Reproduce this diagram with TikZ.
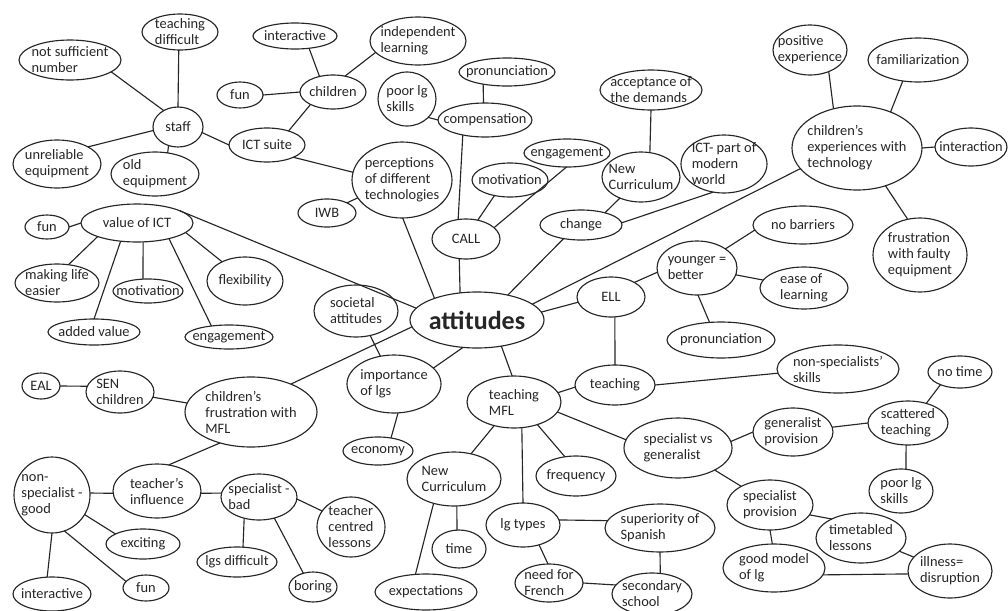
\documentclass[tikz,border=0pt]{standalone}
\usepackage{fontspec}
\setmainfont{Carlito}
\usetikzlibrary{shapes.geometric}
\tikzset{
  bub/.style={draw=black!85, line width=0.85pt, ellipse, inner sep=0pt, outer sep=0pt},
  lbl/.style={align=left, inner sep=0pt, text=black!85, font=\fontsize{10.8}{12}\selectfont},
  link/.style={draw=black!85, line width=0.85pt},
}
% \bub{name}{x}{y}{half width}{half height}{text}
\newcommand\bub[6]{\node[bub, minimum width=#4*1.5pt, minimum height=#5*1.5pt, label={[lbl]center:{#6}}] (#1) at (#2,#3) {};}
\begin{document}
\begin{tikzpicture}[x=0.75pt, y=-0.75pt]
\fill[white] (0,0) rectangle (1008,611);
\useasboundingbox (0,0) rectangle (1008,611);

% centre
\node[bub, minimum width=134*0.75pt, minimum height=56*0.75pt,
  label={[lbl, font=\fontsize{19.5}{22}\selectfont\bfseries]center:attitudes}] (att) at (477,320) {};

% staff / ICT suite cluster
\bub{td}{180}{32}{38}{18}{teaching\\difficult}
\bub{nsn}{70}{60}{51}{20}{not sufficient\\number}
\bub{staff}{178}{127}{25}{20}{staff}
\bub{ue}{57}{164}{44}{24}{unreliable\\equipment}
\bub{oe}{155}{174}{44}{22}{old\\equipment}
\bub{ict}{267}{145}{38}{17}{ICT suite}
\bub{fun1}{240}{95}{23}{13}{fun}
\bub{inter1}{295}{36}{42}{13}{interactive}
\bub{chil}{333}{92}{33}{17}{children}
\bub{indep}{418}{41}{48}{24}{independent\\learning}
\bub{perc}{402}{180}{50}{38}{perceptions\\of different\\technologies}
\bub{iwb}{327}{213}{29}{14}{IWB}

% CALL cluster
\bub{pron1}{507}{72}{48}{14}{pronunciation}
\bub{plg1}{407}{99}{29}{27}{poor lg\\skills}
\bub{comp}{485}{120}{47}{17}{compensation}
\bub{eng1}{567}{153}{43}{14}{engagement}
\bub{mot1}{510}{180}{38}{17}{motivation}
\bub{call}{466}{239}{34}{20}{CALL}

% change cluster
\bub{acc}{651}{90}{51}{20}{acceptance of\\the demands}
\bub{nc1}{641}{177}{39}{25}{New\\Curriculum}
\bub{chg}{581}{225}{41}{15}{change}
\bub{ictw}{724}{164}{43}{29}{ICT- part of\\modern\\world}

% children's experiences cluster
\bub{pos}{810}{50}{37}{25}{positive\\experience}
\bub{fam}{918}{60}{50}{22}{familiarization}
\bub{cexp}{857}{148}{65}{42}{children's\\experiences with\\technology}
\bub{inter2}{971}{147}{36}{19}{interaction}
\bub{frus}{920}{255}{47}{37}{frustration\\with faulty\\equipment}

% ELL cluster
\bub{nob}{803}{225}{50}{19}{no barriers}
\bub{yb}{697}{268}{40}{27}{younger =\\better}
\bub{ease}{804}{288}{44}{21}{ease of\\learning}
\bub{ell}{611}{297}{34}{20}{ELL}
\bub{pron2}{721}{340}{54}{18}{pronunciation}

% teaching MFL cluster
\bub{tmfl}{514}{402}{47}{26}{teaching\\MFL}
\bub{teach}{615}{385}{40}{20}{teaching}
\bub{nss}{838}{369}{61}{24}{non-specialists'\\skills}
\bub{notime}{960}{372}{32}{16}{no time}
\bub{scat}{908}{423}{40}{22}{scattered\\teaching}
\bub{genp}{793}{432}{40}{24}{generalist\\provision}
\bub{svg}{678}{448}{54}{30}{specialist vs\\generalist}
\bub{specp}{770}{505}{43}{25}{specialist\\provision}
\bub{plg2}{901}{491}{32}{22}{poor lg\\skills}
\bub{tt}{861}{538}{45}{25}{timetabled\\lessons}
\bub{gm}{774}{568}{51}{24}{good model\\of lg}
\bub{ill}{950}{571}{42}{27}{illness=\\disruption}
\bub{freq}{576}{476}{40}{20}{frequency}
\bub{lgt}{523}{525}{37}{22}{lg types}
\bub{sup}{660}{528}{55}{24}{superiority of\\Spanish}
\bub{nff}{549}{583}{34}{19}{need for\\French}
\bub{sec}{652}{594}{40}{21}{secondary\\school}
\bub{nc2}{454}{479}{47}{27}{New\\Curriculum}
\bub{time}{459}{549}{27}{19}{time}
\bub{exp}{426}{592}{51}{18}{expectations}

% importance of languages
\bub{soc}{356}{311}{42}{26}{societal\\attitudes}
\bub{imp}{394}{384}{47}{29}{importance\\of lgs}
\bub{econ}{378}{451}{35}{14}{economy}

% frustration with MFL cluster
\bub{cfm}{251}{412}{66}{35}{children's\\frustration with\\MFL}
\bub{sen}{120}{392}{34}{21}{SEN\\children}
\bub{eal}{41}{386}{19}{13}{EAL}
\bub{ti}{157}{491}{44}{27}{teacher's\\influence}
\bub{nsg}{52}{495}{38}{38}{non-\\specialist -\\good}
\bub{sb}{259}{497}{38}{23}{specialist -\\bad}
\bub{tcl}{351}{527}{34}{30}{teacher\\centred\\lessons}
\bub{exc}{143}{544}{37}{15}{exciting}
\bub{lgd}{237}{562}{40}{15}{lgs difficult}
\bub{fun3}{146}{588}{23}{13}{fun}
\bub{bor}{313}{587}{24}{15}{boring}
\bub{inter3}{52}{594}{39}{17}{interactive}

% value of ICT cluster
\bub{vict}{137}{223}{56}{19}{value of ICT}
\bub{funi}{47}{227}{22}{12}{fun}
\bub{mle}{57}{283}{42}{19}{making life\\easier}
\bub{mot2}{148}{291}{35}{12}{motivation}
\bub{flex}{245}{281}{38}{24}{flexibility}
\bub{av}{94}{332}{46}{13}{added value}
\bub{eng2}{229}{337}{44}{12}{engagement}

% connectors
\draw[link] (staff.90) -- (td.266);
\draw[link] (staff.131) -- (nsn.344);
\draw[link] (staff.188) -- (ue.29);
\draw[link] (staff.243) -- (oe.59);
\draw[link] (staff.347) -- (ict.180);
\draw[link] (ict.33) -- (chil.209);
\draw[link] (chil.180) -- (fun1.0);
\draw[link] (chil.131) -- (inter1.319);
\draw[link] (chil.53) -- (indep.195);
\draw[link] (ict.335) -- (perc.171);
\draw[link] (perc.202) -- (iwb.27);
\draw[link] (perc.271) -- (att.153);
\draw[link] (call.251) -- (att.122);
\draw[link] (call.112) -- (comp.214);
\draw[link] (comp.95) -- (pron1.207);
\draw[link] (comp.180) -- (plg1.319);
\draw[link] (call.58) -- (mot1.225);
\draw[link] (call.22) -- (eng1.268);
\draw[link] (att.39) -- (chg.218);
\draw[link] (chg.27) -- (nc1.225);
\draw[link] (nc1.70) -- (acc.270);
\draw[link] (chg.3) -- (ictw.249);
\draw[link] (att.16) -- (cexp.200);
\draw[link] (cexp.121) -- (pos.311);
\draw[link] (cexp.47) -- (fam.234);
\draw[link] (cexp.0) -- (inter2.180);
\draw[link] (cexp.307) -- (frus.109);
\draw[link] (att.7) -- (ell.189);
\draw[link] (ell.32) -- (yb.186);
\draw[link] (ell.281) -- (teach.90);
\draw[link] (yb.34) -- (nob.186);
\draw[link] (yb.350) -- (ease.169);
\draw[link] (yb.272) -- (pron2.123);
\draw[link] (att.186) -- (cfm.35);
\draw[link] (att.169) -- (vict.16);
\draw[link] (soc.300) -- (imp.116);
\draw[link] (att.243) -- (imp.22);
\draw[link] (imp.278) -- (econ.45);
\draw[link] (att.313) -- (tmfl.94);
\draw[link] (tmfl.12) -- (teach.183);
\draw[link] (teach.0) -- (nss.184);
\draw[link] (tmfl.347) -- (svg.171);
\draw[link] (svg.7) -- (genp.180);
\draw[link] (genp.7) -- (scat.180);
\draw[link] (scat.47) -- (notime.213);
\draw[link] (scat.265) -- (plg2.77);
\draw[link] (svg.329) -- (specp.147);
\draw[link] (specp.346) -- (tt.147);
\draw[link] (specp.270) -- (gm.94);
\draw[link] (tt.341) -- (ill.159);
\draw[link] (gm.352) -- (ill.184);
\draw[link] (tmfl.230) -- (nc2.56);
\draw[link] (tmfl.287) -- (lgt.90);
\draw[link] (tmfl.316) -- (freq.120);
\draw[link] (nc2.276) -- (time.96);
\draw[link] (nc2.230) -- (exp.121);
\draw[link] (lgt.8) -- (sup.172);
\draw[link] (sup.270) -- (sec.68);
\draw[link] (lgt.309) -- (nff.93);
\draw[link] (nff.0) -- (sec.166);
\draw[link] (cfm.225) -- (ti.66);
\draw[link] (ti.183) -- (nsg.3);
\draw[link] (ti.357) -- (sb.174);
\draw[link] (sb.357) -- (tcl.151);
\draw[link] (sb.235) -- (lgd.68);
\draw[link] (sb.306) -- (bor.125);
\draw[link] (nsg.329) -- (exc.160);
\draw[link] (nsg.289) -- (fun3.162);
\draw[link] (nsg.270) -- (inter3.106);
\draw[link] (cfm.172) -- (sen.351);
\draw[link] (sen.170) -- (eal.0);
\draw[link] (vict.180) -- (funi.0);
\draw[link] (vict.199) -- (mle.58);
\draw[link] (vict.228) -- (av.90);
\draw[link] (vict.288) -- (mot2.113);
\draw[link] (vict.334) -- (eng2.148);
\draw[link] (vict.349) -- (flex.140);
\end{tikzpicture}
\end{document}
